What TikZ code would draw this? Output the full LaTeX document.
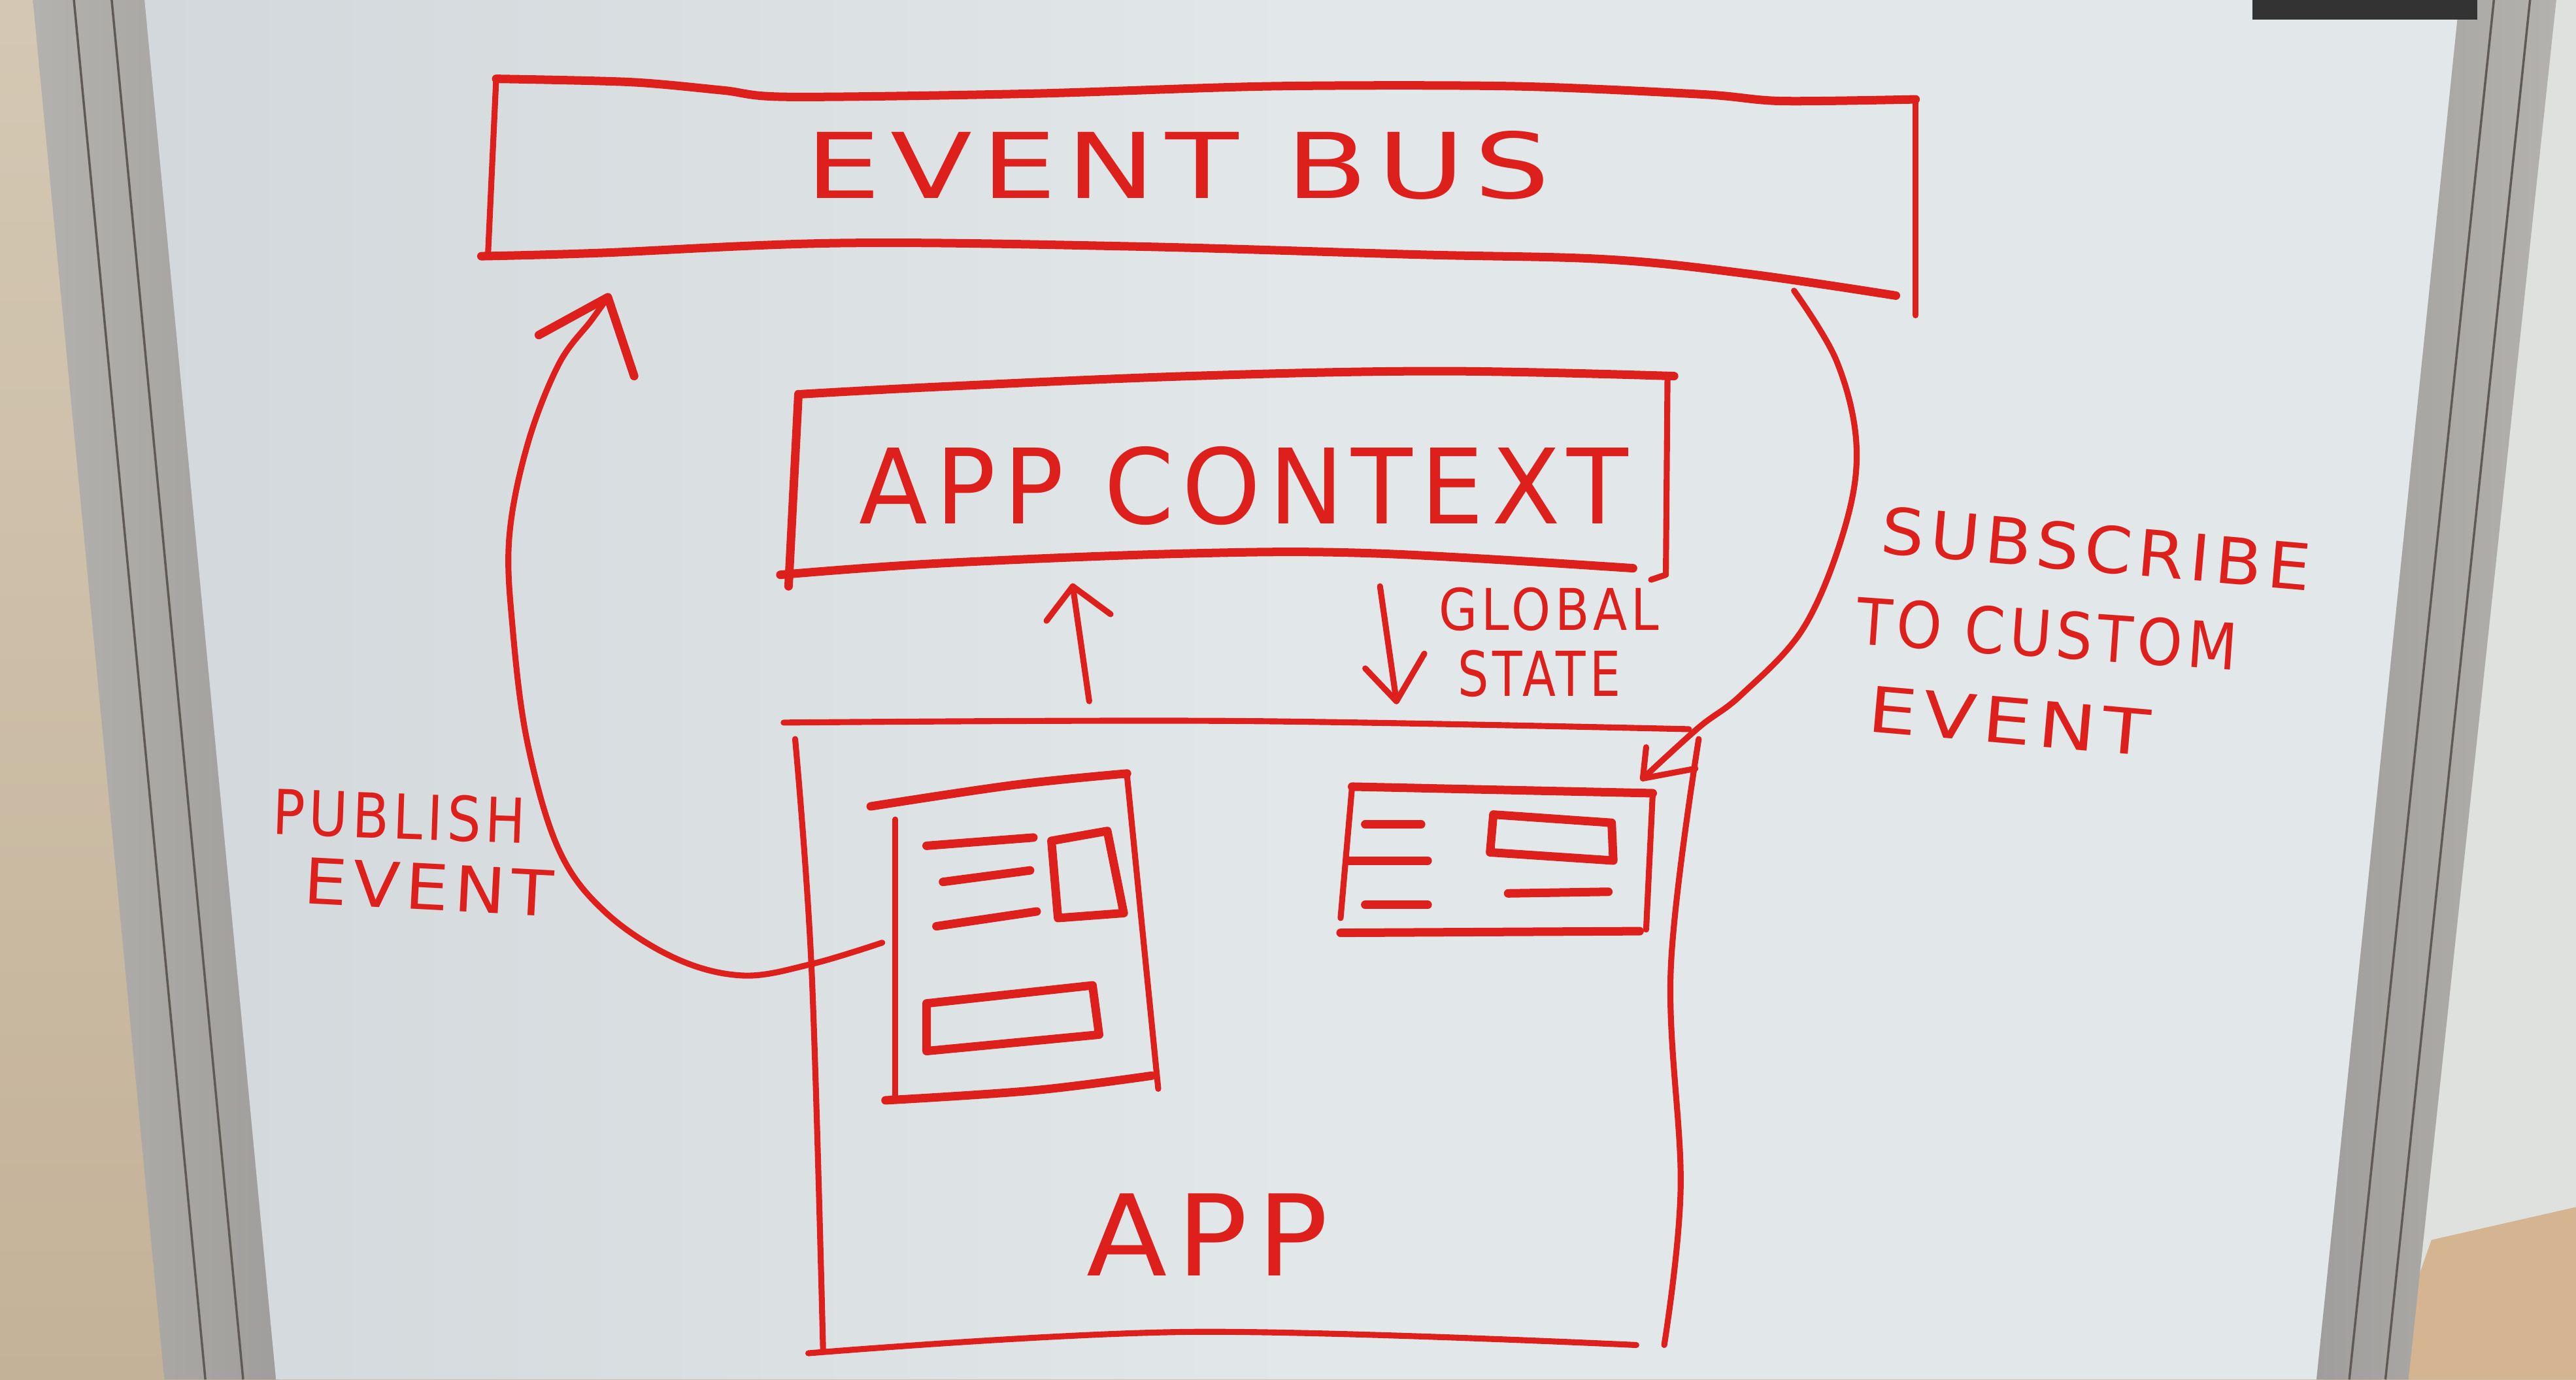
\documentclass[tikz,border=0pt]{standalone}
\usepackage{fontspec}
\usepackage{graphicx}
\newfontfamily\hand[LetterSpace=8]{DejaVu Sans}
\newlength\pxu
\setlength\pxu{0.025134cm}
\newcommand\fitt[3]{\resizebox{#1\pxu}{#2\pxu}{\hand #3}}
\definecolor{mred}{RGB}{222,32,28}
\definecolor{boardA}{RGB}{210,216,219}
\definecolor{boardB}{RGB}{226,231,233}
\definecolor{wallA}{RGB}{212,200,180}
\definecolor{wallB}{RGB}{196,178,152}
\definecolor{wallR}{RGB}{222,225,222}
\definecolor{floorR}{RGB}{212,180,145}
\definecolor{frameA}{RGB}{180,178,174}
\definecolor{frameB}{RGB}{160,158,156}
\definecolor{frameD}{RGB}{95,90,86}
\tikzset{
  mk/.style={draw=mred, line width=3.7pt, line cap=round, line join=round},
  mkthin/.style={draw=mred, line width=2.6pt, line cap=round, line join=round},
  lbl/.style={text=mred, inner sep=0pt, outer sep=0pt},
}
\begin{document}
\begin{tikzpicture}[x=0.025134cm, y=-0.025134cm]
\useasboundingbox (0,0) rectangle (1568,840);
% ---------- scene: wall, frame, board ----------
\shade[top color=wallA, bottom color=wallB] (0,0) rectangle (1568,840);
\fill[wallR] (1540,0) -- (1568,0) -- (1568,840) -- (1450,840) -- cycle;
\fill[floorR] (1480,755) -- (1568,735) -- (1568,840) -- (1450,840) -- cycle;
\shade[left color=frameA, right color=frameB] (20,0) -- (90,0) -- (170,840) -- (100,840) -- cycle;
\draw[frameD, line width=1pt] (45,0) -- (125,840);
\draw[frameD, line width=1pt] (68,0) -- (148,840);
\shade[left color=boardA, right color=boardB, middle color=boardB] (88,0) -- (1500,0) -- (1414,840) -- (168,840) -- cycle;
\shade[left color=frameB, right color=frameA] (1497,0) -- (1556,0) -- (1466,840) -- (1410,840) -- cycle;
\draw[frameD, line width=1pt] (1518,0) -- (1430,840);
\draw[frameD, line width=1pt] (1540,0) -- (1452,840);
\fill[black!80] (1371,0) rectangle (1508,12);

% ---------- EVENT BUS box ----------
\draw[mk] plot[smooth, tension=0.5] coordinates {(302,48) (384,50) (440,55) (480,59) (629,57) (775,52.5) (921,52.5) (1037,57.5) (1084,61.5) (1166,60.5)};
\draw[mkthin] (302,48) -- (297,156);
\draw[mkthin] (1166,61) -- (1166,192);
\draw[mk] plot[smooth, tension=0.6] coordinates {(293,156) (366,154) (512,148) (687,150) (862,155) (979,158) (1066,167) (1154,180)};
\node[lbl] (evbus) at (717,100.5) {\fitt{453}{41}{EVENT BUS}};

% ---------- APP CONTEXT box ----------
\draw[mk] plot[smooth, tension=0.6] coordinates {(488,240) (572,235.5) (724,229) (876,226) (1019,229)};
\draw[mk] (486,240) -- (480,357);
\draw[mk] plot[smooth, tension=0.6] coordinates {(475,350) (572,343) (724,337) (838,337) (994,346)};
\draw[mkthin] (1015,230) -- (1014,350) -- (1005,353);
\node[lbl] (appctx) at (757,296) {\fitt{468}{47}{APP CONTEXT}};

% ---------- arrows between APP and APP CONTEXT ----------
\coordinate (upfrom) at (663,427);
\coordinate (upto) at (653,357);
\draw[mkthin] (upfrom) -- (upto);
\draw[mkthin] (637,378) -- (upto) -- (676,374);
\coordinate (downfrom) at (840,357);
\coordinate (downto) at (850,427);
\draw[mkthin] (downfrom) -- (downto);
\draw[mkthin] (831,407) -- (downto) -- (867,398);
\node[lbl] (global) at (943,371) {\fitt{134}{26}{GLOBAL}};
\node[lbl] (state) at (937,410) {\fitt{99}{28}{STATE}};

% ---------- APP box ----------
\draw[mkthin] plot[smooth, tension=0.6] coordinates {(477,440) (750,439) (1028,444)};
\draw[mkthin] plot[smooth, tension=0.6] coordinates {(484,450) (494,590) (501,822)};
\draw[mkthin] plot[smooth, tension=0.6] coordinates {(492,824) (724,811) (996,819)};
\draw[mkthin] plot[smooth, tension=0.6] coordinates {(1034,450) (1017,590) (1023,723) (1013,819)};
\node[lbl] (app) at (735,752) {\fitt{147}{50}{APP}};

% ---------- left component ----------
\draw[mk] plot[smooth, tension=0.6] coordinates {(530,491) (617,478) (686,471)};
\draw[mkthin] (686,472) -- (705,663);
\draw[mk] plot[smooth, tension=0.6] coordinates {(539,670) (629,664) (701,655)};
\draw[mkthin] (545,499) -- (545,667);
\draw[mk] (564,515) -- (629,510);
\draw[mk] (574,537) -- (627,530);
\draw[mk] (570,564) -- (631,555);
\draw[mk] (640,512) -- (674,506) -- (684,556) -- (644,559) -- cycle;
\draw[mk] (564,611) -- (665,600) -- (669,630) -- (564,640) -- cycle;

% ---------- right component ----------
\draw[mk] (823,479) -- (1006,483);
\draw[mkthin] (1006,483) -- (1002,566);
\draw[mk] (816,568) -- (998,567);
\draw[mkthin] (823,479) -- (816,559);
\draw[mk] (831,502) -- (865,502);
\draw[mk] (821,524) -- (869,524);
\draw[mk] (831,551) -- (869,551);
\draw[mk] (909,496) -- (981,501) -- (982,524) -- (907,519) -- cycle;
\draw[mk] (918,544) -- (979,543);

% ---------- publish event connector ----------
\coordinate (pubstart) at (537,574);
\coordinate (pubtip) at (370,181);
\draw[mkthin] plot[smooth, tension=0.6] coordinates {(pubstart) (494,587) (452,594) (410,583) (368,555) (340,517) (321,452) (312,382) (310,327) (321,271) (340,222) (360,195) (pubtip)};
\draw[mk] (328,204) -- (pubtip) -- (386,229);
\node[lbl, rotate=-2] (publish) at (243,497) {\fitt{154}{28}{PUBLISH}};
\node[lbl, rotate=-3] (pubevent) at (261,540) {\fitt{152}{28}{EVENT}};

% ---------- subscribe connector ----------
\coordinate (substart) at (1092,177);
\coordinate (subtip) at (1000,474);
\draw[mkthin] plot[smooth, tension=0.6] coordinates {(substart) (1118,220) (1130,271) (1123,321) (1098,382) (1060,423) (1034,443) (subtip)};
\draw[mkthin] (1002,455) -- (subtip) -- (1032,468);
\node[lbl, rotate=-5] (subscribe) at (1276,334) {\fitt{262}{29}{SUBSCRIBE}};
\node[lbl, rotate=-4] (tocustom) at (1246,386) {\fitt{232}{29}{TO CUSTOM}};
\node[lbl, rotate=-5] (subevent) at (1223,439) {\fitt{172}{28}{EVENT}};
\end{tikzpicture}
\end{document}
